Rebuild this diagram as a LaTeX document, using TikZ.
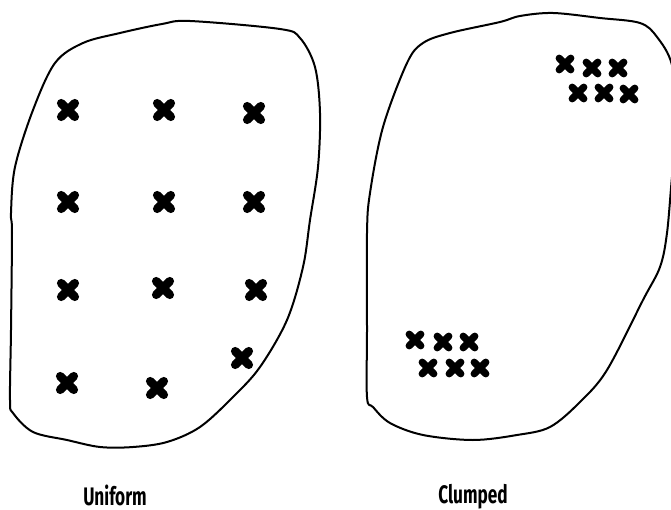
\documentclass[tikz,border=0pt]{standalone}
\usepackage{fontspec}
\setmainfont{Fira Sans}
\usetikzlibrary{shapes.misc}
\tikzset{
  blob/.style={draw=black, line width=1.5pt, line join=round},
  xmark/.style={cross out, draw=black, line width=6.4pt, line cap=round, minimum size=3.8pt, inner sep=0pt},
  xsmall/.style={cross out, draw=black, line width=5.4pt, line cap=round, minimum size=3.3pt, inner sep=0pt},
  caption/.style={font=\fontsize{19}{20}\selectfont\bfseries, xscale=0.68, inner sep=0pt}
}
\begin{document}
\begin{tikzpicture}[x=0.75pt, y=-0.75pt]
\useasboundingbox (0,0) rectangle (671,510);
\clip (0,0) rectangle (671,510);
% left blob
\draw[blob] plot[smooth cycle, tension=0.55] coordinates {
 (162,24) (190,21) (280,29) (300,38) (315,67) (320,113) (318,167) (310,220)
 (303,267) (287,320) (260,367) (233,397) (200,427) (167,442) (133,447)
 (100,447) (67,440) (33,432) (13,413) (10,400) (11,330) (12,233) (11,213)
 (15,167) (33,110) (55,63) (83,43) (120,33)};
% right blob
\draw[blob] plot[smooth cycle, tension=0.55] coordinates {
 (520,16) (553,13) (600,18) (640,23) (657,37) (672,65) (678,120) (672,177)
 (667,233) (660,267) (643,300) (607,370) (580,402) (550,427) (517,435)
 (473,440) (423,435) (390,423) (373,407) (367,397) (367,330) (367,233)
 (370,193) (383,127) (407,63) (423,43) (450,33) (500,22)};
% uniform marks
\node[xmark] (u1) at (68,110) {};
\node[xmark] (u2) at (164,110) {};
\node[xmark] (u3) at (254,113) {};
\node[xmark] (u4) at (68,202) {};
\node[xmark] (u5) at (164,202) {};
\node[xmark] (u6) at (254,202) {};
\node[xmark] (u7) at (68,290) {};
\node[xmark] (u8) at (163,288) {};
\node[xmark] (u9) at (256,290) {};
\node[xmark] (u10) at (67,383) {};
\node[xmark] (u11) at (157,388) {};
\node[xmark] (u12) at (242,358) {};
% clumped marks
\node[xsmall] (c1) at (565,64) {};
\node[xsmall] (c2) at (592,68) {};
\node[xsmall] (c3) at (618,68) {};
\node[xsmall] (c4) at (578,93) {};
\node[xsmall] (c5) at (604,93) {};
\node[xsmall] (c6) at (629,94) {};
\node[xsmall] (c7) at (415,340) {};
\node[xsmall] (c8) at (443,342) {};
\node[xsmall] (c9) at (469,342) {};
\node[xsmall] (c10) at (428,368) {};
\node[xsmall] (c11) at (455,368) {};
\node[xsmall] (c12) at (480,368) {};
% labels
\node[caption, anchor=base] (lu) at (115,505) {Uniform};
\node[caption, anchor=base] (lc) at (473,503) {Clumped};
\end{tikzpicture}
\end{document}
